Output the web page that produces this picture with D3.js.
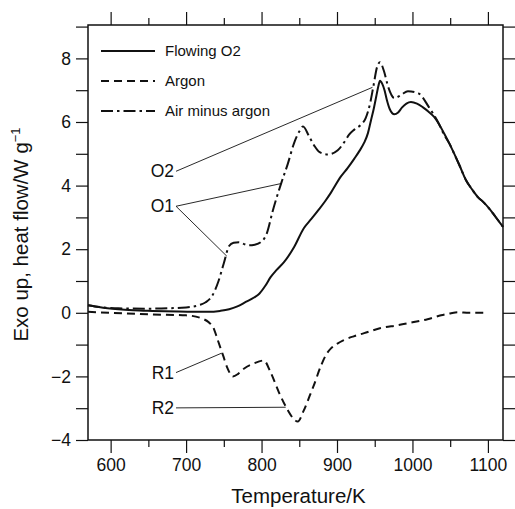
<!DOCTYPE html>
<html>
<head>
<meta charset="utf-8">
<script src="https://cdn.jsdelivr.net/npm/d3@7"></script>
<style>
  body { margin: 0; background: #fff; }
  text { font-family: "Liberation Sans", Arial, Helvetica, sans-serif; fill: #111; }
</style>
</head>
<body>
<svg id="chart"></svg>
<script>
// Flowing O2 (solid) [temperature K, heat flow W/g]
const flowingO2 = [[570,0.24],[590,0.16],[610,0.11],[630,0.08],[655,0.06],[690,0.04],[730,0.03],[745,0.06],[757,0.11],[768,0.2],[779,0.34],[790,0.48],[797,0.6],[805,0.85],[812,1.12],[820,1.35],[830,1.6],[843,2.06],[856,2.66],[866,2.95],[875,3.22],[884,3.5],[892,3.78],[905,4.28],[914,4.55],[923,4.85],[930,5.1],[936,5.35],[941,5.65],[945,6.05],[949,6.45],[952,6.8],[955,7.15],[957,7.3],[960,7.2],[963,7.0],[966,6.7],[970,6.4],[976,6.24],[981,6.3],[986,6.45],[992,6.58],[998,6.63],[1006,6.58],[1014,6.46],[1021,6.33],[1029,6.15],[1036,5.9],[1042,5.64],[1049,5.32],[1055,5.02],[1063,4.6],[1071,4.17],[1079,3.88],[1087,3.63],[1094,3.48],[1101,3.3],[1110,3.02],[1120,2.7]];

// Argon (dashed)
const argon = [[570,0.03],[600,0.0],[650,-0.05],[700,-0.08],[720,-0.17],[730,-0.3],[736,-0.46],[742,-0.86],[749,-1.34],[755,-1.75],[762,-2.0],[769,-1.92],[777,-1.75],[790,-1.59],[803,-1.5],[812,-1.87],[823,-2.5],[835,-3.07],[843,-3.35],[848,-3.42],[856,-3.07],[864,-2.6],[869,-2.3],[879,-1.65],[886,-1.3],[892,-1.12],[900,-0.98],[909,-0.86],[922,-0.74],[936,-0.64],[958,-0.48],[981,-0.39],[1000,-0.3],[1020,-0.2],[1038,-0.08],[1050,-0.02],[1060,0.02],[1075,0.0],[1100,0.0]];

// Air minus argon (dash-dot)
const airMinusArgon = [[570,0.24],[590,0.17],[610,0.14],[650,0.13],[700,0.17],[717,0.24],[726,0.33],[735,0.55],[743,1.0],[750,1.56],[757,2.1],[763,2.2],[770,2.22],[777,2.16],[783,2.12],[791,2.14],[799,2.22],[807,2.5],[815,3.22],[826,4.07],[835,4.7],[843,5.33],[850,5.7],[855,5.86],[863,5.55],[870,5.25],[877,5.05],[888,4.98],[901,5.11],[910,5.38],[916,5.6],[923,5.76],[931,5.9],[938,6.12],[944,6.6],[948,7.09],[953,7.72],[957,7.88],[962,7.62],[968,7.09],[976,6.75],[985,6.85],[994,6.97],[1008,6.9],[1022,6.46],[1034,5.99],[1042,5.6],[1049,5.32],[1055,5.02],[1063,4.6],[1071,4.17],[1079,3.88],[1087,3.63],[1094,3.48],[1101,3.3],[1110,3.02],[1120,2.7]];

const seriesNames = ["Flowing O2", "Argon", "Air minus argon"];
const seriesDash = ["none", "8,5", "12,4,2.5,4"];

const xTicks = [600, 700, 800, 900, 1000, 1100];
const yTicks = [-4, -2, 0, 2, 4, 6, 8];

// annotation: label, label anchor [T, v], target points [T, v]
const annotations = [
  { label: "O2", at: [684, 4.45], targets: [[947, 7.09]] },
  { label: "O1", at: [684, 3.35], targets: [[827, 4.07], [754, 1.78]] },
  { label: "R1", at: [684, -1.88], targets: [[747, -1.27]] },
  { label: "R2", at: [684, -2.99], targets: [[832, -2.97]] }
];

const W = 515, H = 509;
const margin = { top: 25, right: 12, bottom: 69, left: 88 };
const width = W - margin.left - margin.right,
  height = H - margin.top - margin.bottom;

const svg = d3.select("#chart").attr("width", W).attr("height", H);
const g = svg.append("g").attr("transform", `translate(${margin.left},${margin.top})`);

const x = d3.scaleLinear().domain([570, 1120]).range([0, width]);
const y = d3.scaleLinear().domain([-4, 9.05]).range([height, 0]);

const minorX = d3.range(550, 1121, 50).filter(t => t >= 570 && t % 100 !== 0);
const allY = d3.range(-4, 10, 1);

// axes, ticks outward on all four sides
function styleAxis(sel) {
  sel.select(".domain").remove();
  sel.selectAll("line").attr("stroke", "#111").attr("stroke-width", 1.2);
}
g.append("g").attr("transform", `translate(0,${height})`)
  .call(d3.axisBottom(x).tickValues(xTicks).tickSize(13).tickPadding(6).tickFormat(d3.format("d")))
  .call(styleAxis)
  .call(s => s.selectAll("text").style("font-size", "17.5px").attr("fill", "#111"));
g.append("g").attr("transform", `translate(0,${height})`)
  .call(d3.axisBottom(x).tickValues(minorX).tickSize(7).tickFormat(""))
  .call(styleAxis);
g.append("g")
  .call(d3.axisTop(x).tickValues(xTicks).tickSize(13).tickFormat(""))
  .call(styleAxis);
g.append("g")
  .call(d3.axisTop(x).tickValues(minorX).tickSize(7).tickFormat(""))
  .call(styleAxis);
g.append("g")
  .call(d3.axisLeft(y).tickValues(allY).tickSize(12).tickPadding(5)
    .tickFormat(d => yTicks.includes(d) ? (d < 0 ? "\u2212" + Math.abs(d) : d) : ""))
  .call(styleAxis)
  .call(s => s.selectAll("text").style("font-size", "17.5px").attr("fill", "#111"));
g.append("g").attr("transform", `translate(${width},0)`)
  .call(d3.axisRight(y).tickValues(allY).tickSize(12).tickFormat(""))
  .call(styleAxis);

// frame
g.append("rect").attr("width", width).attr("height", height)
  .attr("fill", "none").attr("stroke", "#111").attr("stroke-width", 1.5);

// axis labels
svg.append("text")
  .attr("x", margin.left + width / 2 + 3).attr("y", 503)
  .attr("text-anchor", "middle").style("font-size", "20.5px")
  .text("Temperature/K");
const yl = svg.append("text")
  .attr("transform", `translate(28,${margin.top + height / 2 + 2}) rotate(-90)`)
  .attr("text-anchor", "middle").style("font-size", "20.5px");
yl.append("tspan").text("Exo up, heat flow/W g");
yl.append("tspan").attr("dy", -8).style("font-size", "13px").text("\u22121");

// curves
const line = d3.line().x(d => x(d[0])).y(d => y(d[1])).curve(d3.curveMonotoneX);
const plot = g.append("g");
[flowingO2, argon, airMinusArgon].forEach((s, i) => {
  plot.append("path").datum(s)
    .attr("d", line)
    .attr("fill", "none").attr("stroke", "#111").attr("stroke-width", 2)
    .attr("stroke-dasharray", seriesDash[i]);
});

// annotations
annotations.forEach(a => {
  a.targets.forEach(t => {
    plot.append("line")
      .attr("x1", x(a.at[0]) + 2).attr("y1", y(a.at[1]))
      .attr("x2", x(t[0])).attr("y2", y(t[1]))
      .attr("stroke", "#111").attr("stroke-width", 0.9);
  });
  plot.append("text")
    .attr("x", x(a.at[0])).attr("y", y(a.at[1]))
    .attr("dy", "0.35em").attr("text-anchor", "end")
    .style("font-size", "17.5px").text(a.label);
});

// legend
const legend = g.append("g").attr("transform", "translate(13,26)");
seriesNames.forEach((n, i) => {
  legend.append("line")
    .attr("x1", 0).attr("x2", 54).attr("y1", i * 30).attr("y2", i * 30)
    .attr("stroke", "#111").attr("stroke-width", 2)
    .attr("stroke-dasharray", seriesDash[i]);
  legend.append("text")
    .attr("x", 64).attr("y", i * 30).attr("dy", "0.35em")
    .style("font-size", "15px").text(n);
});
</script>
</body>
</html>
